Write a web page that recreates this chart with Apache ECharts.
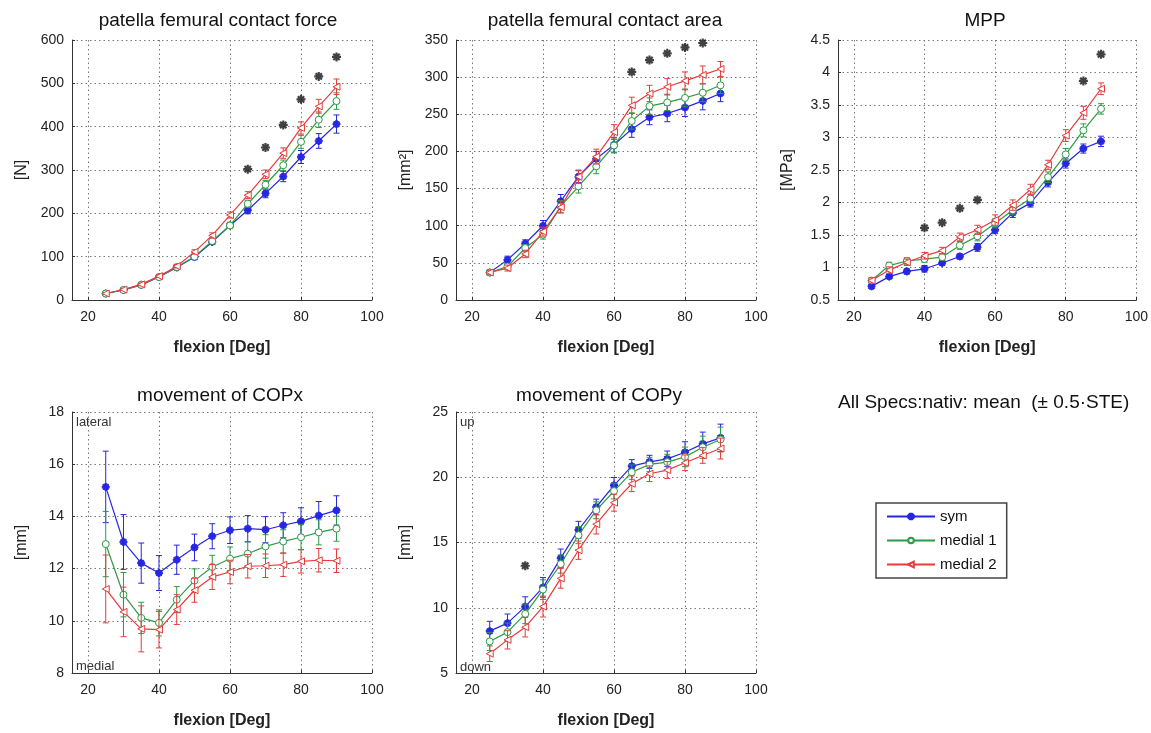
<!DOCTYPE html>
<html><head><meta charset="utf-8">
<script src="https://cdn.jsdelivr.net/npm/echarts@6/dist/echarts.min.js"></script>
<style>html,body{margin:0;padding:0;background:#fff}#c{width:1151px;height:733px}</style>
</head><body><div id="c"></div>
<script>
// ---------- data ----------
const flexion = [25,30,35,40,45,50,55,60,65,70,75,80,85,90];
const xTickValues = [20,40,60,80,100];
const seriesNames = ['sym','medial 1','medial 2'];

// patella femural contact force [N]
const forceSym  = [15,23,35,53,75,99,134,172,207,246,285,330,367,406];
const forceMed1 = [15,23,35,53,76,100,136,172,222,266,311,365,416,459];
const forceMed2 = [15,24,36,55,78,111,149,196,242,290,339,397,447,492];
const forceSymErr  = [2,2,3,3,4,5,6,7,8,10,12,15,17,21];
const forceMed1Err = [2,2,3,3,4,5,6,7,8,10,12,15,18,19];
const forceMed2Err = [2,2,3,3,4,5,6,7,8,10,12,14,16,18];
const forceStarX = [65,70,75,80,85,90];
const forceStarY = [302,352,404,463,516,561];

// patella femural contact area [mm2]
const areaSym  = [37,54,76,100,133,166,190,209,230,246,251,259,268,278];
const areaMed1 = [37,45,70,88,126,153,180,208,241,261,266,272,279,289];
const areaMed2 = [37,43,62,92,125,166,193,226,262,278,287,295,303,311];
const areaSymErr  = [3,5,5,7,9,8,10,10,11,10,11,12,12,11];
const areaMed1Err = [3,4,5,6,8,9,10,10,11,11,11,12,12,11];
const areaMed2Err = [3,4,5,6,8,9,10,10,11,11,11,12,12,10];
const areaStarX = [65,70,75,80,85];
const areaStarY = [307,323,332,340,346];

// MPP [MPa]
const mppSym  = [0.71,0.86,0.94,0.98,1.07,1.17,1.31,1.58,1.84,1.99,2.31,2.60,2.83,2.94];
const mppMed1 = [0.80,1.03,1.10,1.13,1.16,1.34,1.48,1.68,1.88,2.06,2.39,2.74,3.11,3.44];
const mppMed2 = [0.80,0.96,1.08,1.18,1.26,1.47,1.58,1.73,1.96,2.20,2.58,3.03,3.38,3.75];
const mppSymErr  = [0.03,0.03,0.04,0.05,0.04,0.04,0.06,0.06,0.07,0.06,0.07,0.07,0.07,0.08];
const mppMed1Err = [0.04,0.05,0.05,0.05,0.05,0.06,0.07,0.07,0.07,0.07,0.08,0.09,0.10,0.08];
const mppMed2Err = [0.04,0.05,0.05,0.05,0.05,0.06,0.07,0.08,0.08,0.08,0.07,0.09,0.10,0.09];
const mppStarX = [40,45,50,55,85,90];
const mppStarY = [1.61,1.69,1.91,2.04,3.87,4.28];

// movement of COPx [mm]
const copxSym  = [15.13,13.02,12.21,11.83,12.34,12.81,13.24,13.47,13.53,13.49,13.66,13.81,14.03,14.23];
const copxMed1 = [12.94,11.00,10.11,9.92,10.81,11.54,12.06,12.38,12.57,12.85,13.04,13.20,13.39,13.53];
const copxMed2 = [11.22,10.34,9.69,9.66,10.43,11.17,11.68,11.87,12.09,12.11,12.15,12.28,12.32,12.30];
const copxSymErr  = [1.37,1.05,0.77,0.67,0.56,0.51,0.48,0.51,0.50,0.50,0.48,0.52,0.54,0.56];
const copxMed1Err = [1.25,0.85,0.60,0.50,0.50,0.45,0.45,0.45,0.45,0.45,0.45,0.48,0.48,0.48];
const copxMed2Err = [1.30,0.95,0.88,0.70,0.57,0.46,0.48,0.45,0.45,0.45,0.45,0.45,0.45,0.45];

// movement of COPy [mm]
const copySym  = [8.21,8.82,10.09,11.56,13.80,15.97,17.72,19.38,20.85,21.18,21.41,21.92,22.56,23.02];
const copyMed1 = [7.42,8.13,9.53,11.39,13.35,15.56,17.47,18.94,20.39,20.98,21.16,21.56,22.30,22.89];
const copyMed2 = [6.48,7.54,8.51,10.09,12.25,14.41,16.40,18.05,19.50,20.27,20.55,21.11,21.67,22.20];
const copySymErr  = [0.75,0.70,0.75,0.75,0.70,0.65,0.60,0.60,0.50,0.50,0.60,0.80,0.90,1.05];
const copyMed1Err = [0.70,0.70,0.75,0.75,0.70,0.65,0.65,0.60,0.55,0.55,0.60,0.75,0.85,0.95];
const copyMed2Err = [0.60,0.70,0.75,0.80,0.75,0.70,0.75,0.65,0.60,0.60,0.65,0.60,0.60,0.80];
const copyStarX = [35];
const copyStarY = [13.22];

// ---------- styling ----------
const FONT = '"Liberation Sans", Arial, sans-serif';
const COLORS = ['#2626e2','#2f9a45','#e63b3b'];

// asterisk marker outline (8 arms) as one simple polygon
function asteriskPath(L, h) {
  const r = h / Math.sin(Math.PI / 8);
  const pts = [];
  for (let k = 0; k < 8; k++) {
    const t = k * Math.PI / 4;
    const dx = Math.cos(t), dy = Math.sin(t), nx = -dy, ny = dx;
    pts.push([L * dx - h * nx, L * dy - h * ny]);
    pts.push([L * dx + h * nx, L * dy + h * ny]);
    const b = t + Math.PI / 8;
    pts.push([r * Math.cos(b), r * Math.sin(b)]);
  }
  return 'path://M' + pts.map(p => p[0].toFixed(3) + ',' + p[1].toFixed(3)).join('L') + 'Z';
}
const ASTER = asteriskPath(5, 1.2);
const SYMBOLS = [
  {symbol: ASTER, size: 7, fill: COLORS[0], rotate: 0},
  {symbol: 'circle', size: 7, fill: '#fff', rotate: 0},
  {symbol: 'triangle', size: 7, fill: '#fff', rotate: 90}
];

const panels = [
  {title:'patella femural contact force', tx:218, ty:21, yName:'[N]', min:0, max:600, iv:100,
   vals:[forceSym,forceMed1,forceMed2], errs:[forceSymErr,forceMed1Err,forceMed2Err], sx:forceStarX, sy:forceStarY,
   left:72, top:40, height:260},
  {title:'patella femural contact area', tx:605, ty:21, yName:'[mm²]', min:0, max:350, iv:50,
   vals:[areaSym,areaMed1,areaMed2], errs:[areaSymErr,areaMed1Err,areaMed2Err], sx:areaStarX, sy:areaStarY,
   left:456, top:40, height:260},
  {title:'MPP', tx:985, ty:21, yName:'[MPa]', min:0.5, max:4.5, iv:0.5,
   vals:[mppSym,mppMed1,mppMed2], errs:[mppSymErr,mppMed1Err,mppMed2Err], sx:mppStarX, sy:mppStarY,
   left:838, top:40, height:260},
  {title:'movement of COPx', tx:220, ty:396, yName:'[mm]', min:8, max:18, iv:2,
   vals:[copxSym,copxMed1,copxMed2], errs:[copxSymErr,copxMed1Err,copxMed2Err], sx:[], sy:[],
   left:72, top:412, height:261},
  {title:'movement of COPy', tx:599, ty:396, yName:'[mm]', min:5, max:25, iv:5,
   vals:[copySym,copyMed1,copyMed2], errs:[copySymErr,copyMed1Err,copyMed2Err], sx:copyStarX, sy:copyStarY,
   left:456, top:412, height:261}
];

const grid = [], xAxis = [], yAxis = [], series = [], graphic = [];

function errRender(color) {
  return function (params, api) {
    const x = api.value(0);
    const p1 = api.coord([x, api.value(2)]);
    const p2 = api.coord([x, api.value(1)]);
    const w = 3;
    const st = {stroke: color, lineWidth: 1};
    return {type: 'group', children: [
      {type:'line', shape:{x1:p1[0], y1:p1[1], x2:p2[0], y2:p2[1]}, style: st},
      {type:'line', shape:{x1:p1[0]-w, y1:p1[1], x2:p1[0]+w, y2:p1[1]}, style: st},
      {type:'line', shape:{x1:p2[0]-w, y1:p2[1], x2:p2[0]+w, y2:p2[1]}, style: st}
    ]};
  };
}

panels.forEach((p, i) => {
  grid.push({left: p.left, top: p.top, width: 300, height: p.height, containLabel: false});
  xAxis.push({
    type: 'value', gridIndex: i, min: 15.5, max: 100,
    name: 'flexion [Deg]', nameLocation: 'middle', nameGap: 40,
    nameTextStyle: {fontFamily: FONT, fontSize: 16, fontWeight: 'bold', color: '#222'},
    axisLine: {show: true, onZero: false, lineStyle: {color: '#333', width: 1}},
    axisTick: {show: true, inside: true, length: 3, customValues: xTickValues, lineStyle: {color: '#333'}},
    axisLabel: {customValues: xTickValues, fontFamily: FONT, fontSize: 14, color: '#222', margin: 10},
    splitLine: {show: true, lineStyle: {color: '#777', type: [1.5, 3], width: 1}}
  });
  yAxis.push({
    type: 'value', gridIndex: i, min: p.min, max: p.max, interval: p.iv,
    name: p.yName, nameLocation: 'middle', nameGap: 42,
    nameTextStyle: {fontFamily: FONT, fontSize: 16, color: '#222'},
    axisLine: {show: true, lineStyle: {color: '#333', width: 1}},
    axisTick: {show: true, inside: true, length: 3, lineStyle: {color: '#333'}},
    axisLabel: {fontFamily: FONT, fontSize: 14, color: '#222', margin: 8},
    splitLine: {show: true, lineStyle: {color: '#777', type: [1.5, 3], width: 1}}
  });
  graphic.push({type: 'text', x: p.tx, y: p.ty,
    style: {text: p.title, align: 'center', verticalAlign: 'middle', font: '19px ' + FONT, fill: '#111'}});

  for (let s = 0; s < 3; s++) {
    const v = p.vals[s], e = p.errs[s];
    series.push({
      name: seriesNames[s] + ' err', type: 'custom', xAxisIndex: i, yAxisIndex: i,
      renderItem: errRender(COLORS[s]), silent: true, z: 2 + s,
      encode: {x: 0, y: [1, 2]},
      data: flexion.map((x, k) => [x, +(v[k] - e[k]).toFixed(3), +(v[k] + e[k]).toFixed(3)])
    });
    series.push({
      name: seriesNames[s], type: 'line', xAxisIndex: i, yAxisIndex: i, z: 2 + s,
      symbol: SYMBOLS[s].symbol, symbolSize: SYMBOLS[s].size, symbolRotate: SYMBOLS[s].rotate,
      showAllSymbol: true, silent: true,
      lineStyle: {color: COLORS[s], width: 1.2},
      itemStyle: {color: SYMBOLS[s].fill, borderColor: COLORS[s], borderWidth: 1},
      data: flexion.map((x, k) => [x, v[k]])
    });
  }
  if (p.sx.length) {
    series.push({
      name: 'significance', type: 'scatter', xAxisIndex: i, yAxisIndex: i, z: 6,
      symbol: ASTER, symbolSize: 9, silent: true,
      itemStyle: {color: '#111'},
      data: p.sx.map((x, k) => [x, p.sy[k]])
    });
  }
});

// corner notes
graphic.push({type:'text', x:76, y:422, style:{text:'lateral', verticalAlign:'middle', font:'13px ' + FONT, fill:'#333'}});
graphic.push({type:'text', x:76, y:666, style:{text:'medial', verticalAlign:'middle', font:'13px ' + FONT, fill:'#333'}});
graphic.push({type:'text', x:460, y:422, style:{text:'up', verticalAlign:'middle', font:'13px ' + FONT, fill:'#333'}});
graphic.push({type:'text', x:460, y:667, style:{text:'down', verticalAlign:'middle', font:'13px ' + FONT, fill:'#333'}});
graphic.push({type:'text', x:838, y:403, style:{text:'All Specs:nativ: mean  (\u00B1 0.5\u00B7STE)', verticalAlign:'middle', font:'19px ' + FONT, fill:'#111'}});

const chart = echarts.init(document.getElementById('c'), null, {renderer: 'canvas'});
chart.setOption({
  animation: false,
  backgroundColor: '#fff',
  grid, xAxis, yAxis, series, graphic,
  legend: {
    data: seriesNames, orient: 'vertical', left: 876, top: 503,
    padding: [6, 10, 6, 10], itemGap: 9, itemWidth: 48, itemHeight: 7,
    borderColor: '#444', borderWidth: 1.5, backgroundColor: '#fff',
    textStyle: {fontFamily: FONT, fontSize: 15, color: '#111'},
    selectedMode: false
  }
});
</script>
</body></html>
